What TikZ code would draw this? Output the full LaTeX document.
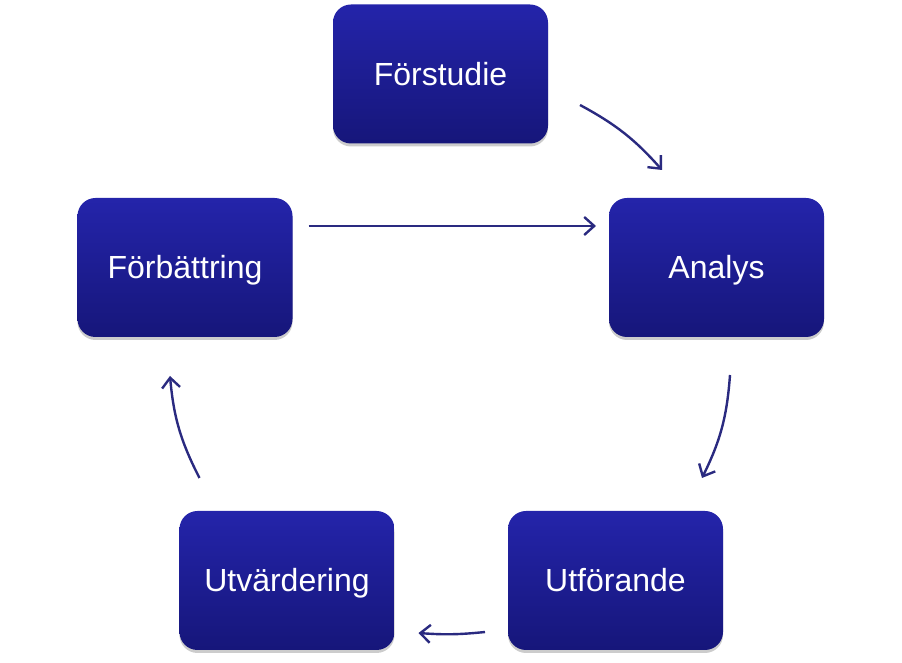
\documentclass[tikz,border=0pt]{standalone}
\usepackage{fontspec}
\setmainfont{Liberation Sans}
\usetikzlibrary{arrows.meta,shadows}
\definecolor{boxtop}{RGB}{36,36,170}
\definecolor{boxbot}{RGB}{22,22,122}
\definecolor{flowcol}{RGB}{42,42,128}
\begin{document}
\begin{tikzpicture}[x=1pt,y=1pt,
	phase/.style={rectangle,rounded corners=18pt,minimum width=215pt,minimum height=139pt,inner sep=0pt,outer sep=0pt,
		top color=boxtop,bottom color=boxbot,draw=none,text=white,font=\fontsize{32}{38}\selectfont,
		text height=29pt,text depth=6pt,
		drop shadow={opacity=0.4,shadow xshift=0pt,shadow yshift=-3pt}},
	flow/.style={draw=flowcol,line width=2.4pt,-{Straight Barb[length=10pt,width=18pt,line width=2.4pt]}}]
	\useasboundingbox (0,0) rectangle (902,663);
	\node[phase] (fs) at (440.5,589) {Förstudie};
	\node[phase] (an) at (716.5,395.5) {Analys};
	\node[phase] (ut) at (615.5,82.5) {Utförande};
	\node[phase] (uv) at (287,82.5) {Utvärdering};
	\node[phase] (fb) at (185,395.5) {Förbättring};
	\path[every edge/.append style=flow]
	([shift={(32,-31)}]fs.east) edge [bend left=10] ([shift={(-54.5,28)}]an.north)
	([shift={(13.5,-38)}]an.south) edge [bend left=11] ([shift={(-21,33)}]ut.north east)
	([shift={(-23,18)}]ut.south west) edge [bend left=5] ([shift={(24,17)}]uv.south east)
	([shift={(20,33)}]uv.north west) edge [bend left=11] ([shift={(-15,-39)}]fb.south)
	([shift={(16,41.5)}]fb.east) edge ([shift={(-13,41.5)}]an.west);
\end{tikzpicture}
\end{document}
